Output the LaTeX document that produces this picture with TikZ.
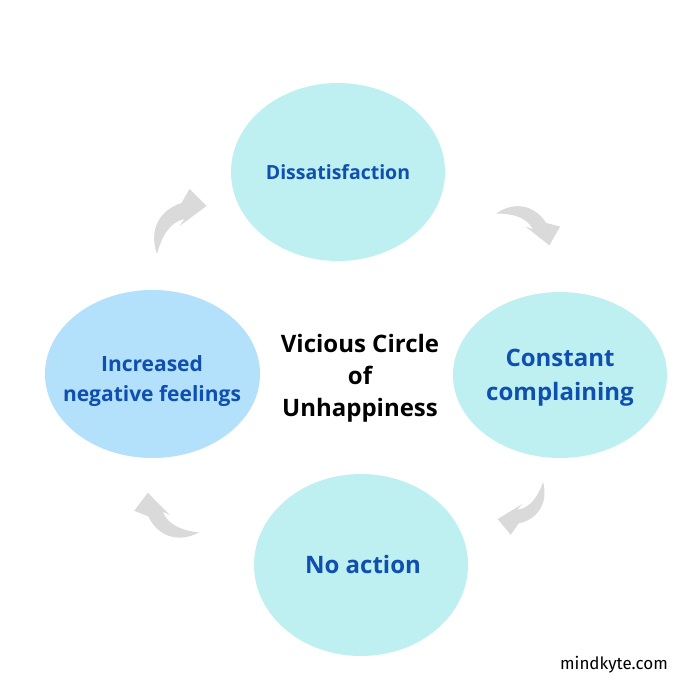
\documentclass[tikz,border=0pt]{standalone}
\usepackage{fontspec}
\setmainfont{Open Sans}
\newfontfamily\markfont{Fira Sans}
\definecolor{cyanfill}{HTML}{BEF0F2}
\definecolor{bluefill}{HTML}{B3E0FA}
\definecolor{txtblue}{HTML}{0F4FB0}
\definecolor{arrowgray}{HTML}{DADADA}
\tikzset{
  bubble/.style={ellipse, minimum width=214pt, minimum height=178pt, inner sep=0pt},
  bubbletext/.style={align=center, text=txtblue, inner sep=0pt},
  turnarrow/.style={fill=arrowgray, draw=none},
}
\usetikzlibrary{shapes.geometric}
\newcommand{\curvedarrow}{%
  \fill[turnarrow] (-24.5,-25) .. controls (-33,-1) and (-22,19) .. (0,26)
    -- (8,40) -- (25,23) -- (-2,3) -- (3,10)
    .. controls (-12,7) and (-20,-8) .. cycle;}
\begin{document}
\begin{tikzpicture}[x=1pt,y=1pt]
\useasboundingbox[fill=white] (0,0) rectangle (700,-700);
\node[bubble, fill=cyanfill] (top) at (338,-172) {};
\node[bubble, fill=cyanfill, minimum height=166pt] (right) at (560,-375) {};
\node[bubble, fill=cyanfill, minimum height=182pt] (bottom) at (361,-565) {};
\node[bubble, fill=bluefill, minimum width=215pt, minimum height=168pt] (left) at (152.5,-374) {};
\node[bubbletext, font=\bfseries\fontsize{19.5}{24}\selectfont] (toptext) at (top.center) {Dissatisfaction};
\node[bubbletext, font=\bfseries\fontsize{24}{34}\selectfont] (righttext) at (560,-378) {Constant\\complaining};
\node[bubbletext, font=\bfseries\fontsize{24}{28}\selectfont] (bottomtext) at (363,-564) {No action};
\node[bubbletext, font=\bfseries\fontsize{21}{30}\selectfont] (lefttext) at (152,-381) {Increased\\negative feelings};
\node[align=center, text=black, font=\bfseries\fontsize{24}{32}\selectfont] (title) at (360,-378) {Vicious Circle\\of\\Unhappiness};
\node[text=black, font=\markfont\fontsize{17}{20}\selectfont] (mark) at (614,-665) {mindkyte.com};
\begin{scope}[shift={(181.5,-229)}] \curvedarrow \end{scope}
\begin{scope}[shift={(523.5,-229)}, rotate=-75, scale=0.9] \curvedarrow \end{scope}
\begin{scope}[shift={(520.5,-501.5)}, rotate=175, scale=0.85] \curvedarrow \end{scope}
\begin{scope}[shift={(172.5,-513)}, rotate=98, scale=0.94] \curvedarrow \end{scope}
\end{tikzpicture}
\end{document}
